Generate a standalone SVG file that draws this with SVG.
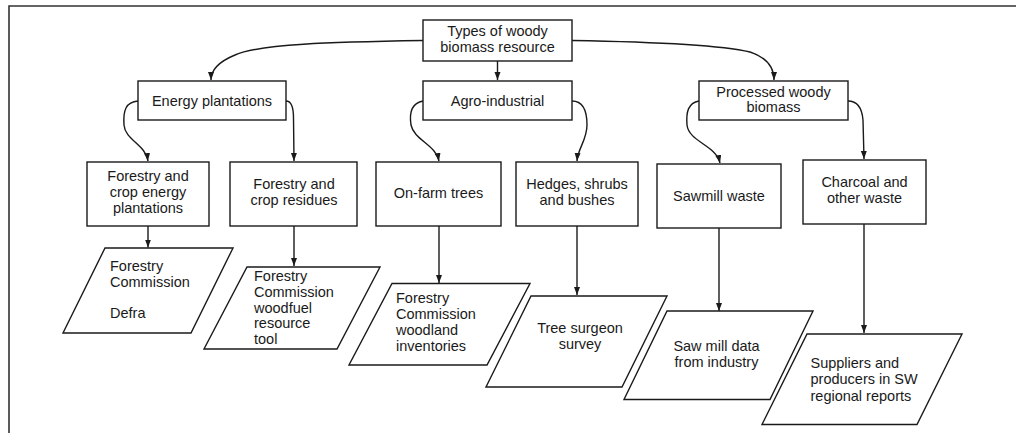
<svg xmlns="http://www.w3.org/2000/svg" width="1016" height="433" viewBox="0 0 1016 433">
  <style>
    .box { fill: #ffffff; stroke: #1a1a1a; stroke-width: 1.4; }
    .edge { fill: none; stroke: #1a1a1a; stroke-width: 1.4; marker-end: url(#arrow); }
    .frame { fill: none; stroke: #333333; stroke-width: 1.6; }
    text { font-family: "Liberation Sans", Arial, sans-serif; font-size: 14.5px; fill: #1a1a1a; }
    .c { text-anchor: middle; }
  </style>
  <defs>
    <marker id="arrow" markerUnits="userSpaceOnUse" markerWidth="9" markerHeight="7" refX="8" refY="3" orient="auto">
      <path d="M0,0 L8,3 L0,6 Z" fill="#1a1a1a"/>
    </marker>
  </defs>

  <rect width="1016" height="433" fill="#ffffff"/>
  <!-- page frame -->
  <path class="frame" d="M9,433 V6 H1016"/>

  <!-- connectors -->
  <g id="connectors">
    <path class="edge" d="M423,40.5 C330,42 260,44 235,55 C218,62 211,70 211,80"/>
    <path class="edge" d="M497.5,61 V80"/>
    <path class="edge" d="M572,40.5 C660,42 720,45 750,52 C768,58 774,68 774,80"/>

    <path class="edge" d="M138,101 C126,102 123,110 124,125 C125,140 146,145 148,161"/>
    <path class="edge" d="M286,101 C292,101 293.5,108 293.5,118 L294,161"/>
    <path class="edge" d="M423,101 C412,103 409,112 411,125 C414,140 436,145 439,161"/>
    <path class="edge" d="M572,101 C583,101 587,110 587,125 C587,140 578,148 577,161"/>
    <path class="edge" d="M699,101 C688,103 686,112 687,125 C689,142 716,145 720,163"/>
    <path class="edge" d="M848,101 C858,101 862,108 863,120 L864,159"/>

    <path class="edge" d="M148,226 V247.5"/>
    <path class="edge" d="M294,226 V266"/>
    <path class="edge" d="M439,226 V283"/>
    <path class="edge" d="M577,226 V295"/>
    <path class="edge" d="M719,228 V311"/>
    <path class="edge" d="M864,224 V333"/>
  </g>

  <!-- level 0 -->
  <g id="types">
    <rect class="box" x="423" y="20" width="149" height="41"/>
    <text class="c" x="497.5" y="36">Types of woody</text>
    <text class="c" x="497.5" y="52">biomass resource</text>
  </g>

  <!-- level 1 -->
  <g id="energy-plantations">
    <rect class="box" x="138" y="81" width="148" height="39"/>
    <text class="c" x="212" y="105.5">Energy plantations</text>
  </g>
  <g id="agro-industrial">
    <rect class="box" x="423" y="81" width="149" height="39"/>
    <text class="c" x="497.5" y="105.5">Agro-industrial</text>
  </g>
  <g id="processed">
    <rect class="box" x="699" y="81" width="149" height="39"/>
    <text class="c" x="773.5" y="97">Processed woody</text>
    <text class="c" x="773.5" y="112">biomass</text>
  </g>

  <!-- level 2 -->
  <g id="forestry-crop-energy">
    <rect class="box" x="87" y="162" width="122" height="64"/>
    <text class="c" x="148" y="181">Forestry and</text>
    <text class="c" x="148" y="197">crop energy</text>
    <text class="c" x="148" y="213">plantations</text>
  </g>
  <g id="forestry-crop-residues">
    <rect class="box" x="230" y="162" width="127" height="64"/>
    <text class="c" x="294" y="189">Forestry and</text>
    <text class="c" x="294" y="205">crop residues</text>
  </g>
  <g id="on-farm-trees">
    <rect class="box" x="376" y="162" width="125" height="64"/>
    <text class="c" x="438.5" y="198">On-farm trees</text>
  </g>
  <g id="hedges">
    <rect class="box" x="516" y="162" width="122" height="64"/>
    <text class="c" x="577" y="189">Hedges, shrubs</text>
    <text class="c" x="577" y="205">and bushes</text>
  </g>
  <g id="sawmill-waste">
    <rect class="box" x="657" y="164" width="124" height="64"/>
    <text class="c" x="719" y="200.5">Sawmill waste</text>
  </g>
  <g id="charcoal">
    <rect class="box" x="803" y="160" width="123" height="64"/>
    <text class="c" x="864.5" y="187">Charcoal and</text>
    <text class="c" x="864.5" y="203">other waste</text>
  </g>

  <!-- data sources -->
  <g id="src-fc-defra">
    <polygon class="box" points="105,248 233,248 191,333 63,333"/>
    <text x="110" y="271">Forestry</text>
    <text x="110" y="287">Commission</text>
    <text x="110" y="318">Defra</text>
  </g>
  <g id="src-woodfuel">
    <polygon class="box" points="247,267 380,267 337,349 204,349"/>
    <text x="254" y="281">Forestry</text>
    <text x="254" y="297">Commission</text>
    <text x="254" y="312.5">woodfuel</text>
    <text x="254" y="328">resource</text>
    <text x="254" y="344">tool</text>
  </g>
  <g id="src-woodland">
    <polygon class="box" points="392,283.5 530,283.5 487,365 349,365"/>
    <text x="396" y="303">Forestry</text>
    <text x="396" y="319">Commission</text>
    <text x="396" y="335">woodland</text>
    <text x="396" y="350.5">inventories</text>
  </g>
  <g id="src-tree-surgeon">
    <polygon class="box" points="531,296 667,296 622,387 486,387"/>
    <text class="c" x="580" y="333">Tree surgeon</text>
    <text class="c" x="580" y="348.5">survey</text>
  </g>
  <g id="src-sawmill">
    <polygon class="box" points="667,311 813,311 770,399.5 624,399.5"/>
    <text class="c" x="716.5" y="351">Saw mill data</text>
    <text class="c" x="716.5" y="367">from industry</text>
  </g>
  <g id="src-suppliers">
    <polygon class="box" points="807,334 962,334 917,424.5 762,424.5"/>
    <text x="810.5" y="367.5">Suppliers and</text>
    <text x="810.5" y="384">producers in SW</text>
    <text x="810.5" y="400.5">regional reports</text>
  </g>
</svg>
